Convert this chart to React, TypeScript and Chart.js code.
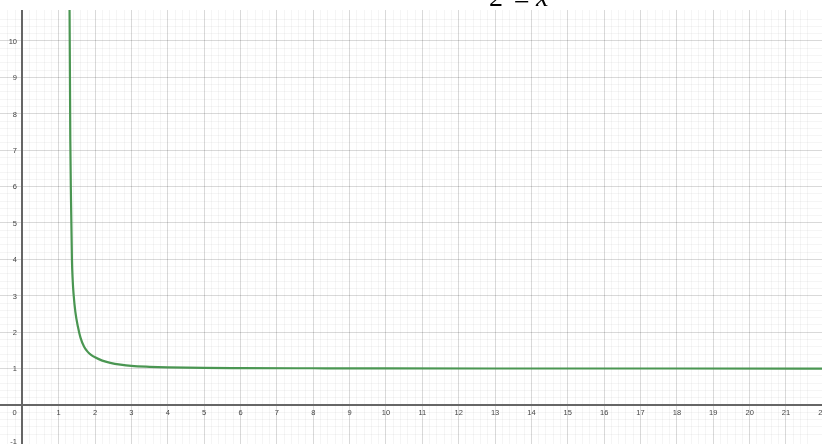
import React, { useEffect, useRef } from "react";
import { Chart, registerables } from "chart.js";

Chart.register(...registerables);

// Curve points
const curveX = [1.295, 1.3, 1.32, 1.34, 1.365, 1.385, 1.41, 1.46, 1.53, 1.6, 1.7, 1.8, 1.9, 2.0, 2.2, 2.42, 2.7, 3.0, 3.5, 4.0, 5.0, 6.0, 8.0, 10, 14, 18, 22.5];
const curveY = [12, 10.8, 7.3, 5.6, 4.0, 3.45, 3.05, 2.55, 2.15, 1.85, 1.6, 1.46, 1.37, 1.31, 1.22, 1.16, 1.11, 1.075, 1.05, 1.035, 1.02, 1.015, 1.01, 1.006, 1.004, 1.003, 1.002];

// Axis tick labels
const xTickValues = [1, 2, 3, 4, 5, 6, 7, 8, 9, 10, 11, 12, 13, 14, 15, 16, 17, 18, 19, 20, 21, 22];
const yTickValues = [-1, 1, 2, 3, 4, 5, 6, 7, 8, 9, 10];
const originLabel = "0";

// Visible window
const X_MIN = -0.613;
const X_MAX = 21.99;
const Y_MIN = -1.07;
const Y_MAX = 10.85;

const GRID_MAJOR = "rgba(0,0,0,0.15)";
const GRID_MINOR = "rgba(0,0,0,0.04)";
const AXIS_COLOR = "#666";
const LABEL_COLOR = "#444";
const LABEL_FONT = '7.5px "Liberation Sans", Arial, sans-serif';

function gridColor(ctx: any) {
  const v = ctx.tick ? ctx.tick.value : null;
  if (v === null || v === undefined) return "transparent";
  const f = v * 5;
  if (Math.abs(f - Math.round(f)) > 1e-6) return "transparent";
  if (Math.abs(v - Math.round(v)) < 1e-6) return GRID_MAJOR;
  return GRID_MINOR;
}

const axesPlugin = {
  id: "desmosAxes",
  beforeDatasetsDraw(chart: any) {
    const { ctx, chartArea } = chart;
    const { left, right, top, bottom } = chartArea;
    const xs = chart.scales.x;
    const ys = chart.scales.y;
    const x0 = Math.round(xs.getPixelForValue(0));
    const y0 = Math.round(ys.getPixelForValue(0));
    ctx.save();
    ctx.strokeStyle = AXIS_COLOR;
    ctx.lineWidth = 2;
    ctx.beginPath();
    ctx.moveTo(x0, top);
    ctx.lineTo(x0, bottom);
    ctx.moveTo(left, y0);
    ctx.lineTo(right, y0);
    ctx.stroke();

    ctx.fillStyle = LABEL_COLOR;
    ctx.font = LABEL_FONT;
    ctx.textBaseline = "middle";
    ctx.textAlign = "center";
    xTickValues.forEach((v) => {
      ctx.fillText(String(v), xs.getPixelForValue(v), y0 + 7.5);
    });
    ctx.fillText(originLabel, x0 - 7.3, y0 + 7.5);
    ctx.textAlign = "right";
    yTickValues.forEach((v) => {
      ctx.fillText(String(v), x0 - 5, ys.getPixelForValue(v) + 0.8);
    });
    ctx.restore();
  },
};

export default function App() {
  const canvasRef = useRef<HTMLCanvasElement | null>(null);

  useEffect(() => {
    if (!canvasRef.current) return;
    const chart = new Chart(canvasRef.current, {
      type: "line",
      data: {
        datasets: [
          {
            data: curveX.map((x, i) => ({ x, y: curveY[i] })),
            borderColor: "#4a9652",
            borderWidth: 2.2,
            pointRadius: 0,
            pointHoverRadius: 0,
            cubicInterpolationMode: "monotone",
            fill: false,
            clip: 0,
          } as any,
        ],
      },
      options: {
        animation: false,
        responsive: false,
        events: [],
        layout: { padding: { top: 10, left: 0, right: 0, bottom: 0 } },
        plugins: {
          legend: { display: false },
          tooltip: { enabled: false },
          title: { display: false },
        },
        scales: {
          x: {
            type: "linear",
            min: X_MIN,
            max: X_MAX,
            ticks: { display: false, stepSize: 0.2, maxTicksLimit: 1000 },
            grid: { color: gridColor, drawTicks: false, lineWidth: 1 },
            border: { display: false },
          },
          y: {
            type: "linear",
            min: Y_MIN,
            max: Y_MAX,
            ticks: { display: false, stepSize: 0.2, maxTicksLimit: 1000 },
            grid: { color: gridColor, drawTicks: false, lineWidth: 1 },
            border: { display: false },
          },
        },
      } as any,
      plugins: [axesPlugin],
    });
    return () => chart.destroy();
  }, []);

  const mathFont: React.CSSProperties = {
    position: "absolute",
    fontFamily: '"Liberation Serif", "Times New Roman", serif',
    fontSize: 28,
    lineHeight: "28px",
    color: "#000",
    whiteSpace: "nowrap",
  };

  return (
    <div style={{ position: "absolute", left: 0, top: 0, width: 822, height: 444, background: "#fff", overflow: "hidden" }}>
      <canvas ref={canvasRef} width={822} height={444} style={{ display: "block", width: 822, height: 444 }} />
      <div style={{ position: "absolute", left: 0, top: 0, width: 822, height: 10, overflow: "hidden" }}>
        <span style={{ ...mathFont, left: 489, top: -16.8 }}>2</span>
        <span style={{ ...mathFont, left: 514, top: -11.8 }}>−</span>
        <span style={{ ...mathFont, left: 536, top: -16.8, fontStyle: "italic" }}>x</span>
      </div>
    </div>
  );
}
